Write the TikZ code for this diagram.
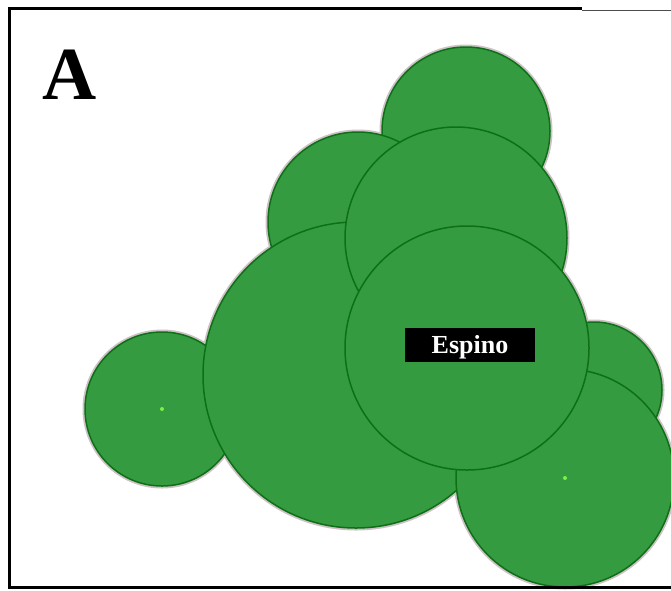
\documentclass[tikz,border=0pt]{standalone}
\usepackage{fontspec}
\setmainfont{Liberation Serif}
\definecolor{leaf}{RGB}{52,155,64}
\definecolor{leafedge}{RGB}{14,112,22}
\definecolor{halocol}{RGB}{205,193,198}
\definecolor{dotgreen}{RGB}{125,240,70}
\begin{document}
\begin{tikzpicture}[x=1pt,y=-1pt,
  crown/.style={circle,fill=leaf,draw=leafedge,line width=1.5pt,inner sep=0pt,minimum size=#1},
  haloring/.style={draw=halocol,line width=5pt},
  frameline/.style={draw=black,line width=2.6pt}]
\useasboundingbox (0,0) rectangle (671,590);
\clip (0,0) rectangle (671,590);
\fill[white] (0,0) rectangle (671,590);
% soft halo outside the crowns
\foreach \cx/\cy/\r in {162/409/77,466/131/84,358/222/90,356/375/153,456/238/111,594/390/68,565/478/109,467/348/122}
  \draw[haloring] (\cx,\cy) circle (\r);
% crowns, back to front
\node[crown=154pt] (c1) at (162,409) {};
\node[crown=168pt] (c2) at (466,131) {};
\node[crown=180pt] (c3) at (358,222) {};
\node[crown=306pt] (c4) at (356,375) {};
\node[crown=222pt] (c5) at (456,238) {};
\node[crown=136pt] (c6) at (594,390) {};
\node[crown=218pt] (c7) at (565,478) {};
\node[crown=244pt] (c8) at (467,348) {};
% centre dots
\fill[dotgreen] (c1.center) circle (2);
\fill[dotgreen] (c7.center) circle (2);
% label
\node[fill=black,text=white,font=\fontsize{26}{26}\selectfont\bfseries,
  minimum width=130pt,minimum height=34pt,inner sep=0pt,
  text height=17pt,text depth=0pt] (espino) at (470,345) {Espino};
% panel letter
\node[anchor=base west,inner sep=0pt,font=\fontsize{75}{75}\selectfont\bfseries] (panel) at (42,99) {A};
% frame
\draw[frameline] (671,587.5) -- (9.5,587.5) -- (9.5,8.5) -- (582,8.5);
\draw[gray!60!black,line width=1.8pt] (582,10.5) -- (671,10.5);
\end{tikzpicture}
\end{document}
